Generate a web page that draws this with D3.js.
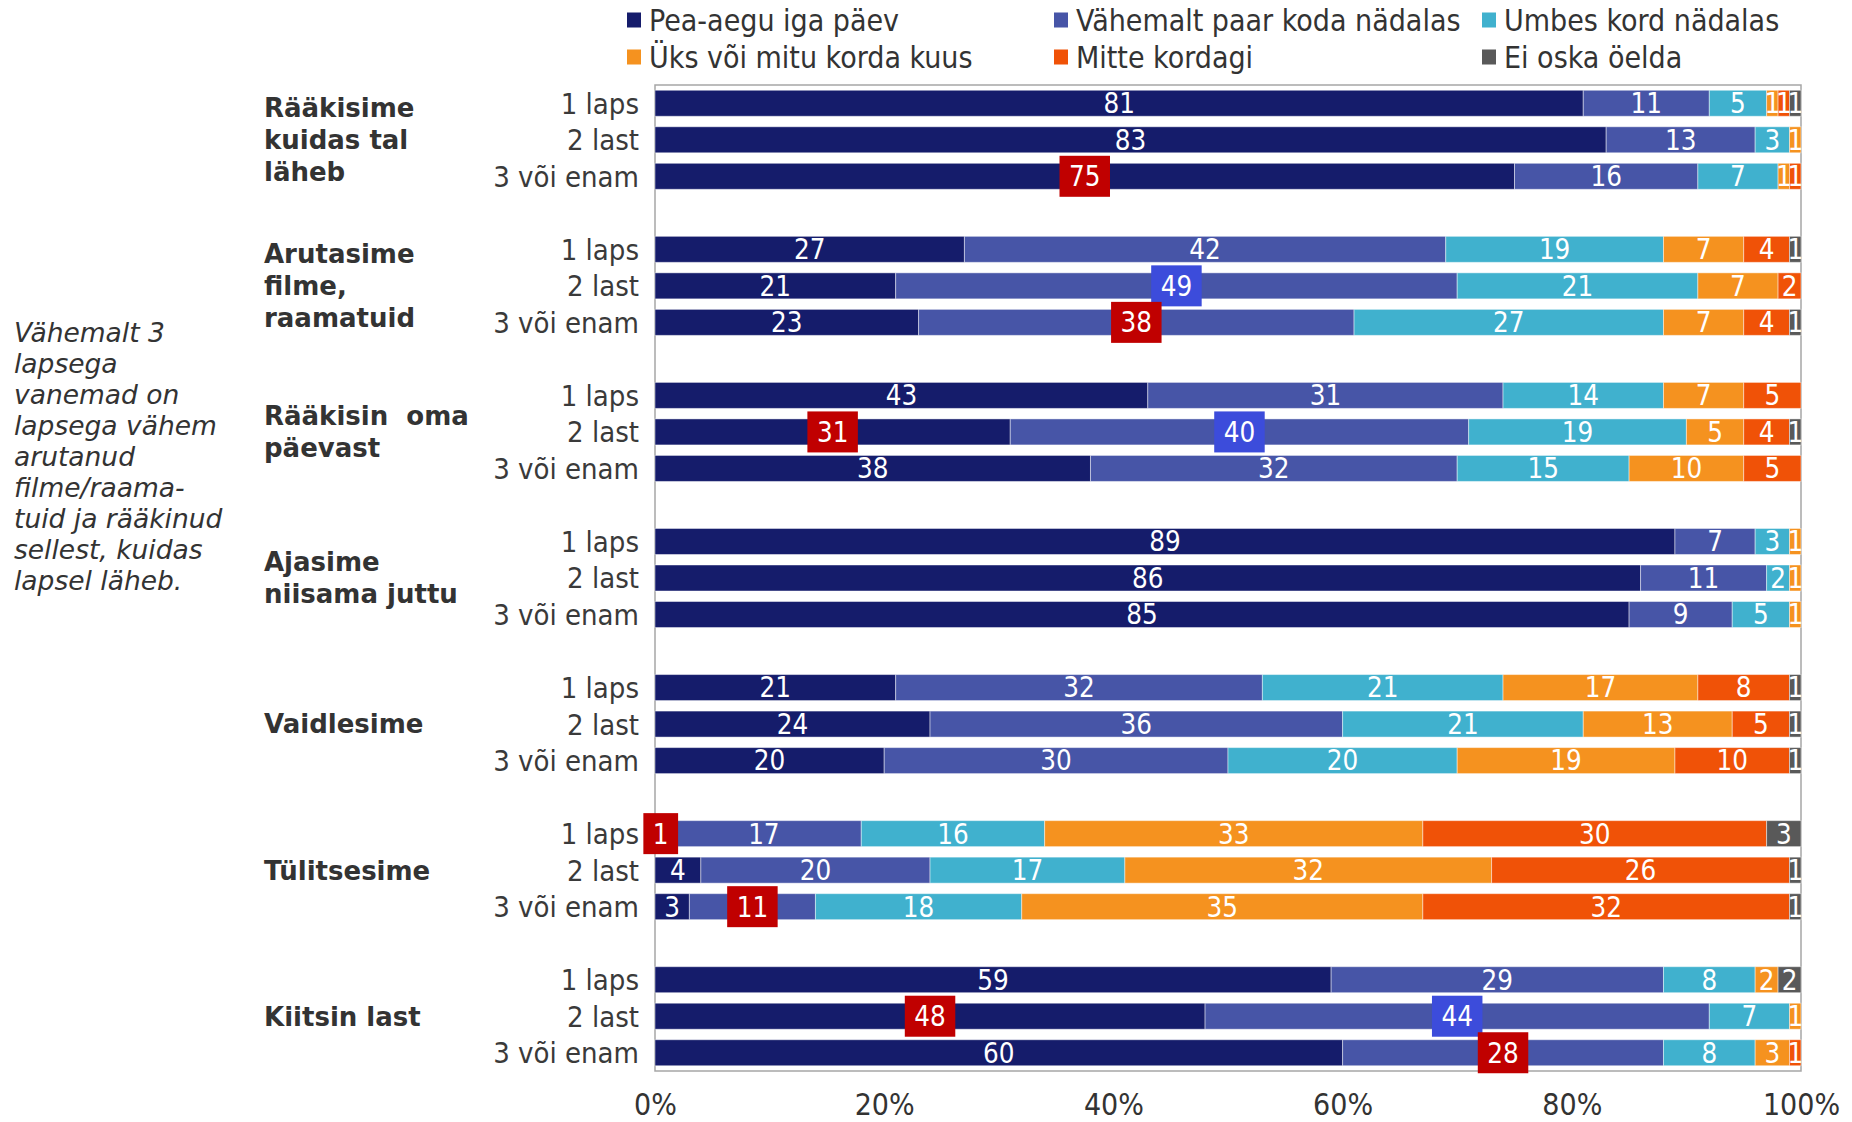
<!DOCTYPE html>
<html>
<head>
<meta charset="utf-8">
<script src="https://cdn.jsdelivr.net/npm/d3@7"></script>
<style>
  body { margin: 0; background: #fff; }
  svg text { font-family: 'DejaVu Sans Condensed', 'DejaVu Sans', sans-serif; font-stretch: condensed; }
</style>
</head>
<body>
<script>
// categories
var groupNames = [
  ["Rääkisime", "kuidas tal", "läheb"],
  ["Arutasime", "filme,", "raamatuid"],
  ["Rääkisin  oma", "päevast"],
  ["Ajasime", "niisama juttu"],
  ["Vaidlesime"],
  ["Tülitsesime"],
  ["Kiitsin last"]
]
var rowLabels = ["1 laps", "2 last", "3 või enam"]
var seriesNames = ["Pea-aegu iga päev", "Vähemalt paar koda nädalas", "Umbes kord nädalas",
                   "Üks või mitu korda kuus", "Mitte kordagi", "Ei oska öelda"]
var tickValues = [0, 20, 40, 60, 80, 100]

// values per group, one row per number of children
var raakisime = [[81, 11, 5, 1, 1, 1], [83, 13, 3, 1, 0, 0], [75, 16, 7, 1, 1, 0]]
var arutasime = [[27, 42, 19, 7, 4, 1], [21, 49, 21, 7, 2, 0], [23, 38, 27, 7, 4, 1]]
var paevast   = [[43, 31, 14, 7, 5, 0], [31, 40, 19, 5, 4, 1], [38, 32, 15, 10, 5, 0]]
var ajasime   = [[89, 7, 3, 1, 0, 0], [86, 11, 2, 1, 0, 0], [85, 9, 5, 1, 0, 0]]
var vaidlesime = [[21, 32, 21, 17, 8, 1], [24, 36, 21, 13, 5, 1], [20, 30, 20, 19, 10, 1]]
var tulitsesime = [[1, 17, 16, 33, 30, 3], [4, 20, 17, 32, 26, 1], [3, 11, 18, 35, 32, 1]]
var kiitsin   = [[59, 29, 8, 2, 0, 2], [48, 44, 7, 1, 0, 0], [60, 28, 8, 3, 1, 0]]
var allValues = [raakisime, arutasime, paevast, ajasime, vaidlesime, tulitsesime, kiitsin]

// highlighted values: [group, row, series, kind]
var highlights = [
  [0, 2, 0, "red"], [1, 1, 1, "blue"], [1, 2, 1, "red"], [2, 1, 0, "red"], [2, 1, 1, "blue"],
  [5, 0, 0, "red"], [5, 2, 1, "red"], [6, 1, 0, "red"], [6, 1, 1, "blue"], [6, 2, 1, "red"]
]

var note = ["Vähemalt 3", "lapsega", "vanemad on", "lapsega vähem", "arutanud",
            "filme/raama-", "tuid ja rääkinud", "sellest, kuidas", "lapsel läheb."]

var colors = ["#151c6b", "#4755a7", "#40b1ce", "#f5921f", "#f05207", "#595959"]
var hlColor = { red: "#c00000", blue: "#3c4cdb" }

var svg = d3.select("body").append("svg")
  .attr("width", 1852).attr("height", 1122)

var plotLeft = 655, plotRight = 1801, plotTop = 85, plotBottom = 1071

// build rows + slots (an empty slot between groups)
var keys = seriesNames.map((d, i) => "s" + i)
var rows = [], slots = []
allValues.forEach((grp, gi) => {
  grp.forEach((vals, ri) => {
    var o = { key: gi + "-" + ri, g: gi, r: ri }
    vals.forEach((v, si) => o["s" + si] = v)
    rows.push(o)
    slots.push(o.key)
  })
  if (gi < allValues.length - 1) slots.push("gap" + gi)
})

var x = d3.scaleLinear().domain([0, 100]).range([plotLeft, plotRight])
var y = d3.scaleBand().domain(slots).range([plotTop, plotBottom])
  .paddingInner(0.288).paddingOuter(0.144)

var stacked = d3.stack().keys(keys)(rows)

// frame
svg.append("rect")
  .attr("x", plotLeft).attr("y", plotTop)
  .attr("width", plotRight - plotLeft).attr("height", plotBottom - plotTop)
  .attr("fill", "none").attr("stroke", "#a6a6a6").attr("stroke-width", 1.5)

// bars
var layer = svg.append("g").selectAll("g")
  .data(stacked)
  .enter().append("g")
  .attr("fill", (d, i) => colors[i])

layer.selectAll("rect")
  .data(d => d.filter(p => p[1] - p[0] > 0))
  .enter().append("rect")
  .attr("x", d => x(d[0]))
  .attr("y", d => y(d.data.key))
  .attr("width", d => x(d[1]) - x(d[0]))
  .attr("height", y.bandwidth())
  .attr("stroke", "#ffffff").attr("stroke-opacity", 0.45).attr("stroke-width", 1)

// value labels
var labels = []
stacked.forEach((s, si) => {
  s.forEach(p => {
    var v = p[1] - p[0]
    if (v <= 0) return
    var h = highlights.find(hh => hh[0] == p.data.g && hh[1] == p.data.r && hh[2] == si)
    labels.push({ v: v, cx: x((p[0] + p[1]) / 2), cy: y(p.data.key) + y.bandwidth() / 2, hl: h ? h[3] : null })
  })
})

var lab = svg.append("g").selectAll("g")
  .data(labels)
  .enter().append("g")
  .attr("transform", d => "translate(" + d.cx + "," + d.cy + ")")

lab.append("text")
  .attr("text-anchor", "middle")
  .attr("dy", "0.36em")
  .attr("font-size", 27.5)
  .attr("fill", "#fff")
  .text(d => d.v)

// highlight boxes behind the text
lab.filter(d => d.hl).each(function(d) {
  var g = d3.select(this)
  var w = g.select("text").node().getComputedTextLength() + 19
  g.insert("rect", "text")
    .attr("x", -w / 2).attr("y", -20.5)
    .attr("width", w).attr("height", 41)
    .attr("fill", hlColor[d.hl])
})

// row labels
svg.append("g").selectAll("text")
  .data(rows)
  .enter().append("text")
  .attr("x", 639)
  .attr("y", d => y(d.key) + y.bandwidth() / 2)
  .attr("dy", "0.36em")
  .attr("text-anchor", "end")
  .attr("font-size", 29)
  .attr("fill", "#3a3a3a")
  .text(d => rowLabels[d.r])

// group labels
var lineH = 32
svg.append("g").selectAll("text")
  .data(groupNames)
  .enter().append("text")
  .attr("font-size", 26)
  .attr("font-weight", "bold")
  .style("font-family", "'DejaVu Sans', sans-serif")
  .style("font-stretch", "normal")
  .style("white-space", "pre")
  .attr("fill", "#333")
  .each(function(lines, gi) {
    var cy = y(gi + "-1") + y.bandwidth() / 2
    var y0 = cy - (lines.length - 1) * lineH / 2
    d3.select(this).selectAll("tspan")
      .data(lines)
      .enter().append("tspan")
      .attr("x", 264)
      .attr("y", (d, i) => y0 + i * lineH)
      .attr("dy", "0.36em")
      .text(d => d)
  })

// side note
svg.append("g").selectAll("text")
  .data(note)
  .enter().append("text")
  .attr("x", 14)
  .attr("y", (d, i) => 332 + i * 31)
  .attr("dy", "0.36em")
  .attr("font-size", 26.5)
  .attr("font-style", "italic")
  .style("font-family", "'DejaVu Sans', sans-serif")
  .style("font-stretch", "normal")
  .attr("fill", "#333")
  .text(d => d)

// x axis
var xAxis = svg.append("g")
  .attr("transform", "translate(0," + plotBottom + ")")
  .call(d3.axisBottom(x).tickValues(tickValues).tickFormat(d => d + "%").tickSize(0).tickPadding(23))
xAxis.select(".domain").remove()
xAxis.attr("font-family", null)
xAxis.selectAll("text")
  .attr("font-size", 30)
  .attr("fill", "#333")

// legend
var legendPos = [[627, 20], [1054, 20], [1482, 20], [627, 57], [1054, 57], [1482, 57]]
var legend = svg.append("g").selectAll("g")
  .data(seriesNames)
  .enter().append("g")
  .attr("transform", (d, i) => "translate(" + legendPos[i][0] + "," + legendPos[i][1] + ")")

legend.append("rect")
  .attr("x", 0).attr("y", -7.5)
  .attr("width", 14).attr("height", 15)
  .attr("fill", (d, i) => colors[i])

legend.append("text")
  .attr("x", 22)
  .attr("dy", "0.36em")
  .attr("font-size", 30)
  .attr("fill", "#333")
  .text(d => d)
</script>
</body>
</html>
